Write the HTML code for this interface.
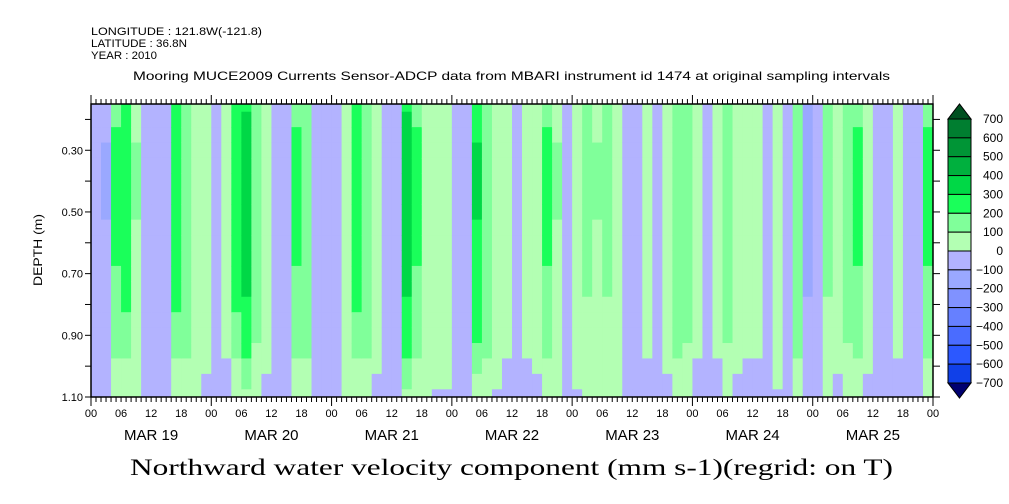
<!DOCTYPE html>
<html><head><meta charset="utf-8"><style>
html,body{margin:0;padding:0;background:#fff;width:1009px;height:504px;overflow:hidden}
svg text{font-family:"Liberation Sans",sans-serif}
</style></head><body>
<svg id="chart" width="1009" height="504" viewBox="0 0 1009 504" xmlns="http://www.w3.org/2000/svg">
<text x="91" y="35" font-size="11" textLength="171" lengthAdjust="spacingAndGlyphs">LONGITUDE : 121.8W(-121.8)</text>
<text x="91" y="47" font-size="11" textLength="96" lengthAdjust="spacingAndGlyphs">LATITUDE : 36.8N</text>
<text x="91" y="59" font-size="11" textLength="66" lengthAdjust="spacingAndGlyphs">YEAR : 2010</text>
<text x="133" y="80" font-size="12" textLength="757" lengthAdjust="spacingAndGlyphs">Mooring MUCE2009 Currents Sensor-ADCP data from MBARI instrument id 1474 at original sampling intervals</text>
<text transform="translate(42,250) rotate(-90)" font-size="12" text-anchor="middle" textLength="72" lengthAdjust="spacingAndGlyphs">DEPTH (m)</text>
<text x="130" y="475" font-size="23" textLength="763" lengthAdjust="spacingAndGlyphs" style="font-family:'Liberation Serif',serif">Northward water velocity component (mm s-1)(regrid: on T)</text>
<g id="cells"></g>
<g id="axes"></g>
<g id="cbar"></g>
</svg>
<script>
// values per 2-hour bin, MAR 19 00h .. MAR 26 00h (84 bins)
const binValues = [
 -50,-100,220,260,100,-50,-30,-50,260,180,80,50,
 -60,30,260,350,150,50,-50,-80,220,180,-50,-60,
 -50,80,260,180,50,-80,-30,350,220,80,60,60,
 -40,-60,300,180,60,40,-60,30,50,220,100,-30,
 60,120,100,120,80,-30,-20,30,-40,50,180,150,
 40,-10,40,150,50,30,20,-20,60,-40,180,-120,
 -80,120,50,150,220,50,-80,-60,40,-60,-40,220
];
// depth levels (m) and attenuation factor by depth
const depthLevels = [0.15,0.20,0.25,0.30,0.35,0.40,0.45,0.50,0.55,0.60,0.65,0.70,0.75,0.80,0.85,0.90,0.95,1.00,1.05,1.10];
const depthFactor = [0.85,0.9,0.95,1.0,1.0,1.0,1.0,1.0,0.98,0.95,0.92,0.9,0.86,0.82,0.76,0.68,0.58,0.45,0.35,0.3];
const yTicks = [0.30,0.50,0.70,0.90,1.10];
const dayLabels = ["MAR 19","MAR 20","MAR 21","MAR 22","MAR 23","MAR 24","MAR 25"];
const hourLabels = ["00","06","12","18"];
const cbarLevels = [700,600,500,400,300,200,100,0,-100,-200,-300,-400,-500,-600,-700];

const colors = ['#006a2a','#007e30','#009536','#00b03e','#00d846','#1aff5a','#80ff9a','#b3ffb3',
 '#b3b3ff','#9aa8ff','#8092ff','#6680ff','#4a6cff','#2c58ff','#1040e8','#0030c0','#002090','#001070'];
const NS='http://www.w3.org/2000/svg';
const X0=91,X1=933,Y0=104,Y1=397;
const nHours=168;
const xs=h=>X0+(X1-X0)*h/nHours;
const ys=d=>Y0+(Y1-Y0)*(d-0.15)/(1.10-0.15);
function colorOf(v){
 if(v>700) return '#005020';
 if(v<-700) return '#000070';
 if(v>=0){const i=Math.min(6,Math.floor(v/100));return colors[7-i];}
 const i=Math.min(6,Math.floor(-v/100));return colors[8+i];
}
function mk(tag,attrs,parent){const e=document.createElementNS(NS,tag);for(const k in attrs)e.setAttribute(k,attrs[k]);parent.appendChild(e);return e;}
const cells=document.getElementById('cells');
for(let i=0;i<binValues.length;i++){
 for(let j=0;j<depthLevels.length;j++){
  const top=j===0?0.15:(depthLevels[j-1]+depthLevels[j])/2;
  const bot=j===depthLevels.length-1?1.10:(depthLevels[j]+depthLevels[j+1])/2;
  const v=binValues[i]*depthFactor[j]-(j>=17?20:0);
  const r=mk('rect',{x:xs(i*2),y:ys(top),width:xs(i*2+2)-xs(i*2)+0.5,height:ys(bot)-ys(top)+0.5,fill:colorOf(v)},cells);
  
  
 }
}
const ax=document.getElementById('axes');
mk('rect',{x:X0,y:Y0,width:X1-X0,height:Y1-Y0,fill:'none',stroke:'#000','stroke-width':1.5},ax);
for(let h=0;h<=nHours;h++){
 const x=xs(h);const L=h%24===0?9:5;
 mk('line',{x1:x,y1:Y0,x2:x,y2:Y0-L,stroke:'#000'},ax);
 mk('line',{x1:x,y1:Y1,x2:x,y2:Y1+(h%24===0?9:5),stroke:'#000'},ax);
 if(h%6===0){
  const t=mk('text',{x:x,y:Y1+20,'font-size':11,'text-anchor':'middle'},ax);
  t.textContent=hourLabels[(h/6)%4];
  
  
 }
}
dayLabels.forEach((d,i)=>{
 const t=mk('text',{x:xs(i*24+12),y:Y1+43,'font-size':15,'text-anchor':'middle'},ax);
 t.textContent=d;
 
 
});
for(let k=2;k<=11;k++){
 const y=ys(k/10);
 mk('line',{x1:X0,y1:y,x2:X0-6,y2:y,stroke:'#000'},ax);
 mk('line',{x1:X1,y1:y,x2:X1+7,y2:y,stroke:'#000'},ax);
}
yTicks.forEach(v=>{
 const t=mk('text',{x:X0-8,y:ys(v)+4,'font-size':11,'text-anchor':'end'},ax);
 t.textContent=v.toFixed(2);
 
 
});
// colorbar
const cb=document.getElementById('cbar');
const CX0=948,CX1=971,CT=119,CB=383;
const ch=(CB-CT)/14;
mk('polygon',{points:`${CX0},${CT} ${CX1},${CT} ${(CX0+CX1)/2},${CT-15}`,fill:'#005020',stroke:'#000'},cb);
mk('polygon',{points:`${CX0},${CB} ${CX1},${CB} ${(CX0+CX1)/2},${CB+15}`,fill:'#000070',stroke:'#000'},cb);
for(let i=0;i<14;i++){
 const mid=(cbarLevels[i]+cbarLevels[i+1])/2;
 const r=mk('rect',{x:CX0,y:CT+i*ch,width:CX1-CX0,height:ch,fill:colorOf(mid),stroke:'#000','stroke-width':1},cb);
 
 
}
cbarLevels.forEach((v,i)=>{
 const t=mk('text',{x:1003,y:CT+i*ch+4,'font-size':12,'text-anchor':'end'},cb);
 t.textContent=v<0?'\u2212'+(-v):String(v);
 
 
});
</script>
</body></html>
